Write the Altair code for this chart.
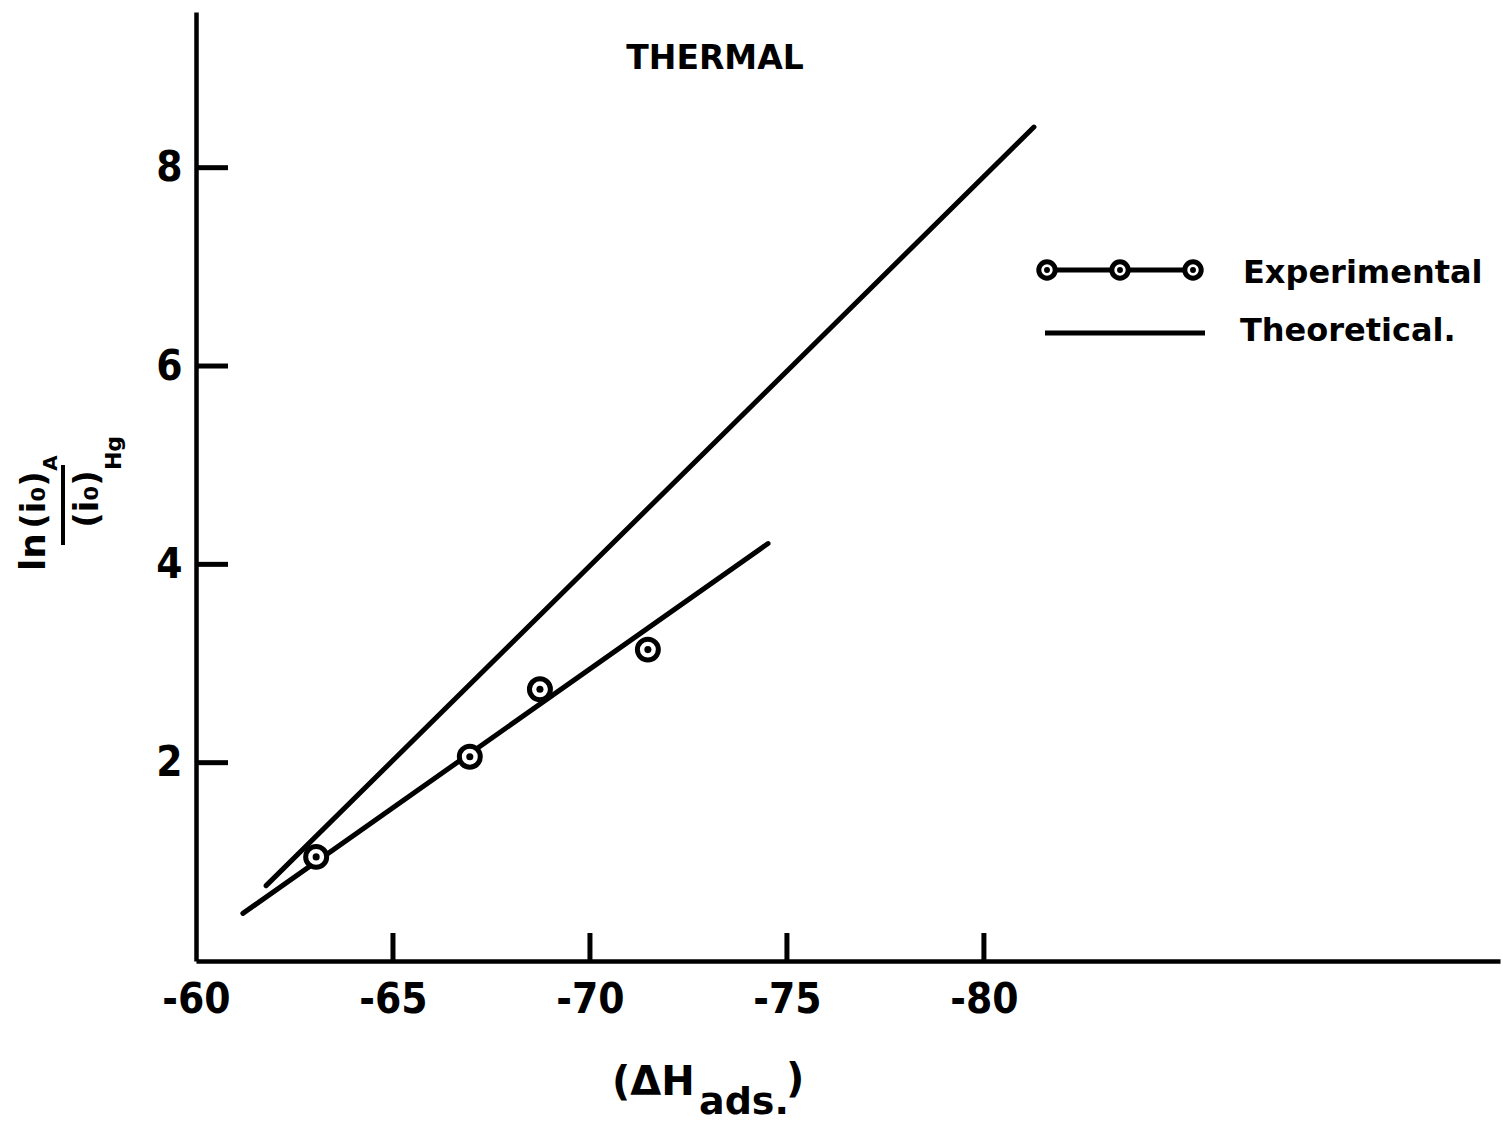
import altair as alt
import pandas as pd

# Experimental points: heat of adsorption vs ln of exchange-current ratio
dh_exp = [-63.05, -66.95, -68.73, -71.47]
ln_ratio_exp = [1.05, 2.06, 2.74, 3.14]

# Straight line drawn through the experimental points
fit_dh = [-61.19, -74.52]
fit_ln = [0.48, 4.21]

# Theoretical relation
theo_dh = [-61.78, -81.27]
theo_ln = [0.76, 8.41]

x_ticks = [-60, -65, -70, -75, -80]
y_ticks = [2, 4, 6, 8]

W, H = 1304, 949
X_DOMAIN = [-93.1, -60]
Y_DOMAIN = [0, 9.57]

LABEL_FONT = "DejaVu Sans Condensed, DejaVu Sans"
TEXT_FONT = "DejaVu Sans"
LINE_W = 5

xs = alt.Scale(domain=X_DOMAIN, reverse=True, nice=False, zero=False)
ys = alt.Scale(domain=Y_DOMAIN, nice=False, zero=False)

exp_df = pd.DataFrame({"dh": dh_exp, "ln": ln_ratio_exp})
fit_df = pd.DataFrame({"dh": fit_dh, "ln": fit_ln})
theo_df = pd.DataFrame({"dh": theo_dh, "ln": theo_ln})
xt_df = pd.DataFrame({"v": x_ticks[1:]})
yt_df = pd.DataFrame({"v": y_ticks})

x_axis = alt.Axis(
    values=x_ticks, title=None, grid=False, ticks=False, tickSize=0,
    labelExpr="'-' + format(abs(datum.value), 'd')",
    labelFont=LABEL_FONT, labelFontSize=42, labelFontWeight="bold",
    labelColor="black", labelPadding=18, labelFlush=False,
    domainColor="black", domainWidth=4.5,
)
y_axis = alt.Axis(
    values=y_ticks, title=None, grid=False, ticks=False, tickSize=0,
    labelFont=LABEL_FONT, labelFontSize=42, labelFontWeight="bold",
    labelColor="black", labelPadding=14, labelBaseline="middle", labelFlush=False,
    domainColor="black", domainWidth=4.5,
)

theory = alt.Chart(theo_df).mark_line(color="black", strokeWidth=LINE_W, strokeCap="round").encode(
    x=alt.X("dh:Q", scale=xs, axis=x_axis),
    y=alt.Y("ln:Q", scale=ys, axis=y_axis),
)

fit = alt.Chart(fit_df).mark_line(color="black", strokeWidth=LINE_W, strokeCap="round").encode(
    x=alt.X("dh:Q", scale=xs, axis=None),
    y=alt.Y("ln:Q", scale=ys, axis=None),
)

rings = alt.Chart(exp_df).mark_point(
    shape="circle", filled=True, fill="white", stroke="black",
    strokeWidth=5, size=440, opacity=1,
).encode(
    x=alt.X("dh:Q", scale=xs, axis=None),
    y=alt.Y("ln:Q", scale=ys, axis=None),
)
dots = alt.Chart(exp_df).mark_point(
    shape="circle", filled=True, color="black", size=50, opacity=1,
).encode(
    x=alt.X("dh:Q", scale=xs, axis=None),
    y=alt.Y("ln:Q", scale=ys, axis=None),
)

# Inward tick marks on both axes
x_tick_marks = alt.Chart(xt_df).mark_rule(color="black", strokeWidth=LINE_W).encode(
    x=alt.X("v:Q", scale=xs, axis=None), y=alt.value(H), y2=alt.value(H - 28),
)
y_tick_marks = alt.Chart(yt_df).mark_rule(color="black", strokeWidth=LINE_W).encode(
    y=alt.Y("v:Q", scale=ys, axis=None), x=alt.value(0), x2=alt.value(32),
)


def label(text, x, y, size, align="center", baseline="middle", angle=0, weight="bold"):
    return alt.Chart(pd.DataFrame({"t": [text]})).mark_text(
        font=TEXT_FONT, fontSize=size, fontWeight=weight, color="black",
        align=align, baseline=baseline, angle=angle,
    ).encode(text="t:N", x=alt.value(x), y=alt.value(y))


title = label("THERMAL", 519, 47, 33)

# x-axis title: (ΔH ads.)
x_title = [
    label("(ΔH", 416, 1083, 40, align="left", baseline="alphabetic"),
    label("ads.", 503, 1102, 38, align="left", baseline="alphabetic"),
    label(")", 590, 1080, 40, align="left", baseline="alphabetic"),
]

# y-axis title: ln (i0)_A / (i0)_Hg, written sideways
y_title = [
    label("ln", -162, 540, 36, angle=270),
    label("(i₀)", -161, 488, 34, angle=270),
    label("A", -145, 451, 20, angle=270),
    label("(i₀)", -108, 487, 34, angle=270),
    label("Hg", -82, 441, 22, angle=270),
]
bar = alt.Chart(pd.DataFrame({"k": [0]})).mark_rule(color="black", strokeWidth=4).encode(
    x=alt.value(-133), y=alt.value(453), y2=alt.value(533),
)

# Legend
leg_scale = alt.Scale(domain=[0, 2], range=[851, 997])
leg_line_exp = alt.Chart(pd.DataFrame({"k": [0]})).mark_rule(color="black", strokeWidth=LINE_W).encode(
    x=alt.value(851), x2=alt.value(997), y=alt.value(258),
)
leg_rings = alt.Chart(pd.DataFrame({"k": [0, 1, 2]})).mark_point(
    shape="circle", filled=True, fill="white", stroke="black",
    strokeWidth=5, size=270, opacity=1,
).encode(
    x=alt.X("k:Q", scale=leg_scale, axis=None),
    y=alt.value(258),
)
leg_dots = alt.Chart(pd.DataFrame({"k": [0, 1, 2]})).mark_point(
    shape="circle", filled=True, color="black", size=35, opacity=1,
).encode(
    x=alt.X("k:Q", scale=leg_scale, axis=None),
    y=alt.value(258),
)
leg_line_theo = alt.Chart(pd.DataFrame({"k": [0]})).mark_rule(color="black", strokeWidth=LINE_W).encode(
    x=alt.value(849), x2=alt.value(1009), y=alt.value(321),
)
leg_text = [
    label("Experimental", 1047, 271, 32, align="left", baseline="alphabetic"),
    label("Theoretical.", 1044, 329, 32, align="left", baseline="alphabetic"),
]

chart = alt.layer(
    theory, fit, x_tick_marks, y_tick_marks, rings, dots, title,
    *x_title, *y_title, bar,
    leg_line_exp, leg_rings, leg_dots, leg_line_theo, *leg_text,
).resolve_scale(x="independent", y="independent").properties(
    width=W, height=H,
    autosize=alt.AutoSizeParams(type="none"),
    padding={"left": 196, "top": 12, "right": 3, "bottom": 168},
    background="white",
).configure_view(stroke=None)

chart.save("out.html", embed_options={"renderer": "svg", "actions": False})
